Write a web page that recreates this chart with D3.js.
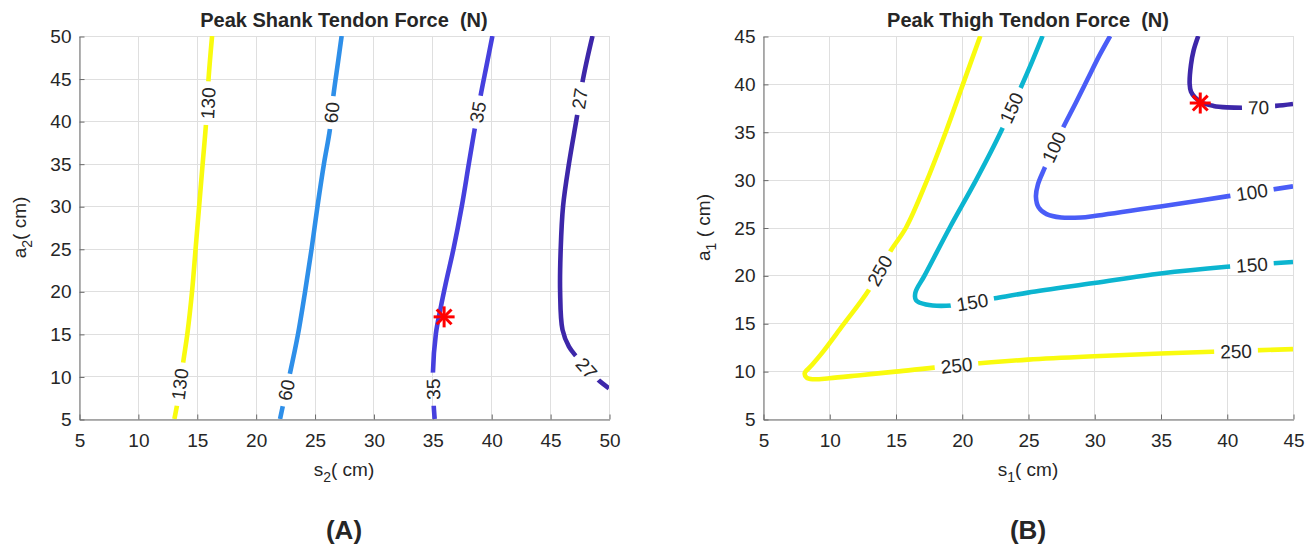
<!DOCTYPE html>
<html>
<head>
<meta charset="utf-8">
<script src="https://cdn.jsdelivr.net/npm/d3@7/dist/d3.min.js"></script>
<style>
  body { margin: 0; background: #fff; }
  svg text { font-family: "Liberation Sans", Arial, Helvetica, sans-serif; fill: #262626; white-space: pre; }
</style>
</head>
<body>
<svg id="chart" width="1314" height="548"></svg>
<script>
// ---- data (cm on both axes, contour levels in N) ----
const shankTicks = [5, 10, 15, 20, 25, 30, 35, 40, 45, 50]
const thighTicks = [5, 10, 15, 20, 25, 30, 35, 40, 45]

const shankLevels = [130, 60, 35, 27]
const shankLine130 = [[13.1, 5], [13.5, 8], [13.85, 11.7], [14.2, 15], [14.6, 20], [14.9, 25], [15.2, 30], [15.5, 35], [15.8, 40], [16.0, 45], [16.3, 50]]
const shankLine60 = [[22.07, 5], [22.3, 6.5], [22.6, 8.5], [22.9, 10.3], [23.6, 15], [24.2, 20], [24.75, 25], [25.25, 30], [25.8, 35], [26.3, 39], [26.6, 43], [27.0, 47], [27.3, 50]]
const shankLine35 = [[35.2, 5], [35.1, 7], [35.05, 10.4], [35.3, 15], [35.7, 18], [36.15, 21], [36.8, 25], [37.5, 30], [38.1, 35], [38.6, 39.1], [39.1, 43], [39.6, 46.5], [40.1, 50]]
const shankLine27 = [[48.6, 50], [48.15, 47.3], [47.75, 44.6], [47.3, 40.7], [46.6, 35], [46.1, 30], [45.9, 25], [45.85, 20], [46.05, 15.5], [46.6, 13.5], [47.25, 12.3], [48.1, 10.96], [49.1, 9.58], [50, 8.6]]
const shankLabels130 = [[13.55, 9.1], [15.95, 42.1]]
const shankLabels60 = [[22.6, 8.4], [26.45, 41]]
const shankLabels35 = [[35.07, 8.5], [38.85, 41.05]]
const shankLabels27 = [[47.5, 42.65], [48.1, 10.96]]
const shankOptimum = [36, 17]

const thighLevels = [250, 150, 100, 70]
const thighLine250 = [[21.4, 45], [20.1, 40], [18.8, 35], [17.4, 30], [15.8, 25], [14.6, 22.5], [13.0, 18.5], [11.0, 14.75], [9.4, 11.8], [8.6, 10.5], [8.15, 9.8], [8.3, 9.3], [8.8, 9.15], [10, 9.25], [12.5, 9.6], [15, 9.95], [20, 10.65], [25, 11.2], [30, 11.56], [35, 11.84], [40, 12.08], [45, 12.3]]
const thighLine150 = [[26.1, 45], [25.3, 42.3], [24.45, 39.6], [23.75, 37.5], [22.95, 35], [21.1, 30], [19.1, 25], [17.2, 20], [16.5, 18.2], [16.55, 17.4], [17.3, 16.95], [19.25, 16.85], [20.8, 17.2], [22.5, 17.6], [25, 18.2], [30, 19.2], [35, 20.2], [40, 20.9], [45, 21.4]]
const thighLine100 = [[31.2, 45], [30.4, 43], [29.5, 40.5], [28.6, 38], [27.6, 35.3], [26.95, 33.4], [26.25, 31.2], [25.75, 29.5], [25.6, 28.2], [25.8, 27.1], [26.4, 26.4], [27.5, 26.05], [29, 26.05], [30, 26.2], [35, 27.2], [40, 28.25], [45, 29.3]]
const thighLine70 = [[37.85, 45], [37.5, 43.5], [37.3, 42], [37.2, 40], [37.3, 39.2], [37.6, 38.6], [38.2, 38.0], [39, 37.7], [40, 37.55], [41.2, 37.5], [42.4, 37.55], [43.7, 37.7], [45, 37.9]]
const thighLabels250 = [[13.8, 20.5], [19.6, 10.6], [40.7, 12.08]]
const thighLabels150 = [[23.75, 37.5], [20.8, 17.2], [41.9, 21.1]]
const thighLabels100 = [[26.95, 33.4], [41.9, 28.7]]
const thighLabels70 = [[42.4, 37.55]]
const thighOptimum = [38, 38]

// parula-like colours per level
const levelColor = {
  130: '#f9fb0e', 60: '#2e8fe9', 35: '#4640de', 27: '#3d27a9',
  250: '#f9fb0e', 150: '#0cb5d0', 100: '#4a5df7', 70: '#3d27a9'
}

const svg = d3.select('#chart')
const defs = svg.append('defs')

// direction of the contour at a label, in screen degrees, kept readable
let labelAngle = function (pts, p) {
  let best = 0
  let bestD = Infinity
  for (let i = 0; i < pts.length - 1; i++) {
    let mx = (pts[i][0] + pts[i + 1][0]) / 2
    let my = (pts[i][1] + pts[i + 1][1]) / 2
    let d = (mx - p[0]) ** 2 + (my - p[1]) ** 2
    if (d < bestD) { bestD = d; best = i }
  }
  let dx = pts[best + 1][0] - pts[best][0]
  let dy = pts[best + 1][1] - pts[best][1]
  let ang = Math.atan2(dy, dx) * 180 / Math.PI
  while (ang > 80) ang -= 180
  while (ang <= -100) ang += 180
  return ang
}

let drawPanel = function (cfg) {
  let x = d3.scaleLinear().domain(cfg.domain).range([cfg.left, cfg.right])
  let y = d3.scaleLinear().domain(cfg.domain).range([cfg.bottom, cfg.top])
  let w = cfg.right - cfg.left
  let h = cfg.bottom - cfg.top
  let g = svg.append('g')

  // grid
  let grid = g.append('g').attr('stroke', '#dfdfdf').attr('stroke-width', 1)
  cfg.ticks.forEach(t => {
    grid.append('line').attr('x1', Math.round(x(t)) + 0.5).attr('x2', Math.round(x(t)) + 0.5)
      .attr('y1', cfg.top).attr('y2', cfg.bottom)
    grid.append('line').attr('y1', Math.round(y(t)) + 0.5).attr('y2', Math.round(y(t)) + 0.5)
      .attr('x1', cfg.left).attr('x2', cfg.right)
  })

  // axes, ticks pointing inward
  let xAxis = g.append('g').attr('transform', `translate(0.5,${cfg.bottom + 0.5})`)
    .call(d3.axisBottom(x).tickValues(cfg.ticks).tickFormat(d3.format('d'))
      .tickSizeInner(-5).tickSizeOuter(0).tickPadding(14))
  let yAxis = g.append('g').attr('transform', `translate(${cfg.left + 0.5},0.5)`)
    .call(d3.axisLeft(y).tickValues(cfg.ticks).tickFormat(d3.format('d'))
      .tickSizeInner(-5).tickSizeOuter(0).tickPadding(8))
  ;[xAxis, yAxis].forEach(a => {
    a.select('.domain').attr('stroke', '#6a6a6a')
    a.selectAll('.tick line').attr('stroke', '#6a6a6a')
    a.selectAll('.tick text').style('font-size', '19px').attr('fill', '#262626')
  })

  // contours
  let clipId = 'clip-' + cfg.tag
  defs.append('clipPath').attr('id', clipId)
    .append('rect').attr('x', cfg.left).attr('y', cfg.top).attr('width', w).attr('height', h)

  let line = d3.line()
    .x(d => x(d[0]))
    .y(d => y(d[1]))
    .curve(d3.curveCatmullRom.alpha(0.5))

  let layer = g.append('g').attr('clip-path', `url(#${clipId})`)
  let labelLayer = g.append('g')

  cfg.contours.forEach((c, ci) => {
    let px = c.pts.map(d => [x(d[0]), y(d[1])])
    let maskId = `mask-${cfg.tag}-${ci}`
    let mask = defs.append('mask').attr('id', maskId)
      .attr('maskUnits', 'userSpaceOnUse')
      .attr('x', 0).attr('y', 0).attr('width', 1314).attr('height', 548)
    mask.append('rect').attr('x', 0).attr('y', 0).attr('width', 1314).attr('height', 548).attr('fill', '#fff')

    c.labels.forEach(p => {
      let lx = x(p[0])
      let ly = y(p[1])
      let ang = labelAngle(px, [lx, ly])
      let t = labelLayer.append('text')
        .attr('transform', `translate(${lx},${ly}) rotate(${ang})`)
        .attr('text-anchor', 'middle')
        .attr('dy', '0.36em')
        .style('font-size', '19px')
        .attr('fill', '#111')
        .text(c.level)
      let tw = t.node().getComputedTextLength()
      let gw = tw + 12
      mask.append('rect')
        .attr('transform', `translate(${lx},${ly}) rotate(${ang})`)
        .attr('x', -gw / 2).attr('y', -10).attr('width', gw).attr('height', 20)
        .attr('fill', '#000')
    })

    layer.append('path')
      .attr('d', line(c.pts))
      .attr('fill', 'none')
      .attr('stroke', levelColor[c.level])
      .attr('stroke-width', 4.6)
      .attr('stroke-linejoin', 'round')
      .attr('mask', `url(#${maskId})`)
  })

  // optimum marker (asterisk)
  let ox = x(cfg.opt[0])
  let oy = y(cfg.opt[1])
  let r = 10.5
  let star = g.append('g').attr('stroke', '#ff0000').attr('stroke-width', 3)
  ;[0, 45, 90, 135].forEach(a => {
    let rad = a * Math.PI / 180
    star.append('line')
      .attr('x1', ox - r * Math.cos(rad)).attr('y1', oy - r * Math.sin(rad))
      .attr('x2', ox + r * Math.cos(rad)).attr('y2', oy + r * Math.sin(rad))
  })

  let cx = (cfg.left + cfg.right) / 2

  // title
  g.append('text').attr('x', cx).attr('y', 27)
    .attr('text-anchor', 'middle')
    .style('font-size', '20px').style('font-weight', 'bold')
    .attr('fill', '#000')
    .text(cfg.title)

  // x label with subscript
  let xl = g.append('text').attr('x', cx).attr('y', 476)
    .attr('text-anchor', 'middle').style('font-size', '19px')
  xl.append('tspan').text(cfg.xLabel[0])
  xl.append('tspan').attr('dy', 6).style('font-size', '14px').text(cfg.xLabel[1])
  xl.append('tspan').attr('dy', -6).text(cfg.xLabel[2])

  // y label with subscript
  let yl = g.append('text')
    .attr('transform', `translate(${cfg.left - 53},${(cfg.top + cfg.bottom) / 2}) rotate(-90)`)
    .attr('text-anchor', 'middle').style('font-size', '19px')
  yl.append('tspan').text(cfg.yLabel[0])
  yl.append('tspan').attr('dy', 6).style('font-size', '14px').text(cfg.yLabel[1])
  yl.append('tspan').attr('dy', -6).text(cfg.yLabel[2])

  // panel letter
  g.append('text').attr('x', cx).attr('y', 539)
    .attr('text-anchor', 'middle')
    .style('font-size', '26px').style('font-weight', 'bold')
    .attr('fill', '#000')
    .text(cfg.letter)
}

drawPanel({
  tag: 'shank',
  left: 79, right: 609, top: 36, bottom: 419,
  domain: [5, 50],
  ticks: shankTicks,
  title: 'Peak Shank Tendon Force  (N)',
  xLabel: ['s', '2', '( cm)'],
  yLabel: ['a', '2', '( cm)'],
  letter: '(A)',
  opt: shankOptimum,
  contours: [
    { level: shankLevels[0], pts: shankLine130, labels: shankLabels130 },
    { level: shankLevels[1], pts: shankLine60, labels: shankLabels60 },
    { level: shankLevels[2], pts: shankLine35, labels: shankLabels35 },
    { level: shankLevels[3], pts: shankLine27, labels: shankLabels27 }
  ]
})

drawPanel({
  tag: 'thigh',
  left: 763, right: 1293, top: 36, bottom: 419,
  domain: [5, 45],
  ticks: thighTicks,
  title: 'Peak Thigh Tendon Force  (N)',
  xLabel: ['s', '1', '( cm)'],
  yLabel: ['a', '1', ' ( cm)'],
  letter: '(B)',
  opt: thighOptimum,
  contours: [
    { level: thighLevels[0], pts: thighLine250, labels: thighLabels250 },
    { level: thighLevels[1], pts: thighLine150, labels: thighLabels150 },
    { level: thighLevels[2], pts: thighLine100, labels: thighLabels100 },
    { level: thighLevels[3], pts: thighLine70, labels: thighLabels70 }
  ]
})
</script>
</body>
</html>
